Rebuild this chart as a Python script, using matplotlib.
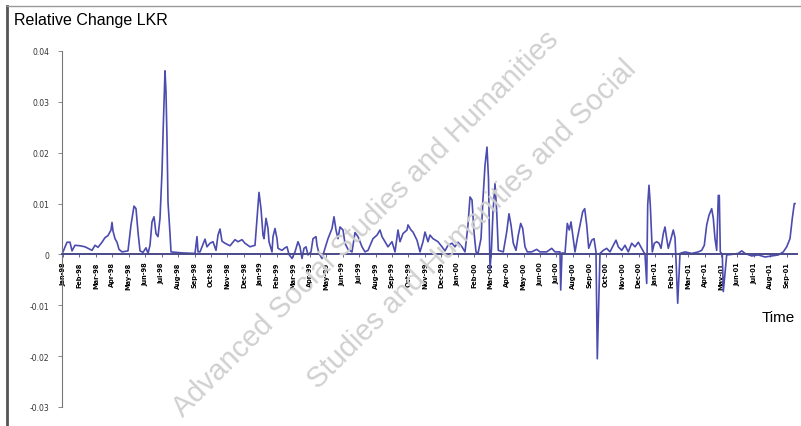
import numpy as np
import pandas as pd
import matplotlib
matplotlib.use('Agg')
import matplotlib.pyplot as plt
from matplotlib.lines import Line2D

# observation number (trading days from start) and relative change in per mille
obs = [1, 5, 8, 10, 13, 18, 23, 26, 30, 33, 36, 40, 43, 46, 49, 50, 51, 53, 55, 57,
       60, 66, 69, 72, 74, 76, 78, 81, 84, 86, 88, 90, 92, 94, 96, 98, 100, 101, 103, 104,
       105, 106, 108, 109, 120, 133, 135, 136, 138, 143, 145, 148, 151, 154, 156, 158, 160, 163,
       168, 173, 176, 180, 183, 188, 193, 195, 197, 199, 201, 202, 204, 206, 207, 210, 211, 213,
       215, 216, 220, 223, 225, 227, 230, 233, 236, 238, 240, 242, 244, 246, 249, 251, 254, 255,
       257, 260, 263, 266, 270, 272, 274, 276, 278, 281, 283, 286, 290, 293, 296, 300, 303, 306,
       311, 315, 318, 320, 323, 326, 330, 333, 336, 338, 341, 345, 346, 349, 351, 355, 358, 361,
       363, 366, 368, 371, 376, 380, 383, 386, 390, 393, 396, 400, 403, 406, 408, 410, 412, 414,
       416, 419, 421, 423, 425, 426.5, 428, 429.5, 431, 433, 434.7, 436.3, 441.3, 444.7, 447,
       449, 451.3, 454, 456.3, 458.7, 460.7, 463, 465.3, 469.7, 474.7, 478, 484.7, 489.7, 493,
       498, 498.7, 500, 503, 505.3, 507.3, 509, 511.3, 513, 515.3, 518, 520.7, 522.7, 524.7,
       526.7, 529.7, 532, 534, 535.3, 538, 541.3, 544.7, 548, 551.3, 554, 556.3, 559.7, 563,
       566.3, 569.7, 573, 576.3, 579.7, 583, 584.7, 585.7, 587, 588.3, 590.3, 592.3, 594.7, 597,
       599, 601.3, 603, 604.7, 606.3, 609, 611.3, 613, 614.2, 615.7, 618, 623, 629.7, 636.3,
       639.7, 642.3, 644.7, 647, 649.7, 651.3, 653, 654.7, 656.3, 657.3, 658.3, 660.3, 661.3,
       664.7, 669.7, 676.3, 679.7, 683, 689.7, 696.3, 703, 709.7, 716.3, 721.3, 724.7, 728,
       730.3, 732.3, 733]
chg = [0.5, 2.4, 2.4, 0.7, 1.8, 1.7, 1.5, 1.2, 0.8, 1.8, 1.4, 2.4, 3.3, 3.7, 4.8, 6.3, 4.6, 3.1, 2.4, 1.0,
       0.5, 0.7, 5.8, 9.5, 9.0, 4.4, 0.7, 0.4, 1.3, 0.2, 1.8, 6.4, 7.4, 4.1, 3.5, 7.1, 16.2, 23.4, 36.1, 31.9,
       22.7, 10.3, 4.1, 0.5, 0.3, 0.2, 3.5, 0.5, 0.5, 3.0, 1.5, 2.2, 2.5, 0.8, 3.8, 5.0, 2.6, 2.2,
       1.7, 2.9, 2.5, 2.9, 2.2, 1.5, 1.8, 7.1, 12.2, 9.0, 3.8, 3.1, 7.1, 5.1, 2.5, 0.5, 3.5, 5.1,
       3.1, 1.2, 0.8, 1.3, 1.5, 0.0, -0.8, 0.5, 2.5, 1.5, -0.8, 1.2, 1.5, -0.1, 0.5, 3.1, 3.5, 1.8,
       0.2, -0.8, 1.2, 3.1, 5.1, 7.4, 4.8, 3.1, 5.4, 4.8, 2.2, 1.0, 0.5, 4.3, 3.5, 1.5, 0.5, 0.8,
       3.1, 3.8, 4.8, 3.5, 2.5, 1.5, 2.5, 0.5, 4.8, 2.5, 4.1, 4.8, 5.8, 4.8, 4.4, 2.8, 0.5, 2.5,
       4.4, 2.5, 3.8, 3.1, 2.5, 1.5, 0.7, 1.8, 2.2, 1.5, 2.4, 1.5, 0.5, 5.8, 11.3, 10.7, 4.4, 0.5,
       0.2, 3.1, 11.0, 17.5, 21.1, 14.9, -3.0, 1.2, 8.4, 13.9, 8.4, 0.8, 0.5, 4.4, 8.0,
       5.8, 2.2, 0.8, 3.8, 6.1, 5.1, 1.5, 0.5, 0.5, 1.0, 0.5, 0.5, 1.2, 0.5,
       0.5, -7.0, 0.3, 0.2, 6.1, 4.8, 6.4, 3.1, 0.5, 3.1, 5.8, 8.4, 9.0, 5.8,
       1.2, 2.8, 3.1, 0.5, -20.5, 0.2, 0.8, 1.2, 0.5, 1.8, 2.8, 1.5, 0.8, 1.8,
       0.5, 2.2, 1.5, 2.4, 1.2, 0.0, -5.7, 9.7, 13.6, 9.7, 0.5, 2.2, 2.5, 2.2,
       1.2, 4.1, 5.4, 3.1, 1.2, 3.1, 4.8, 3.3, -2.0, -9.6, 0.2, 0.5, 0.2, 0.5,
       0.8, 1.8, 5.8, 7.7, 9.0, 7.1, 3.1, 0.8, 11.6, 11.6, 0.5, 0.0, -7.3,
       -0.1, 0.0, 0.2, 0.7, 0.2, -0.3, -0.1, -0.5, -0.3, -0.1, 0.5, 1.5, 3.1,
       7.1, 10.0, 10.0]

# one label every 16.45 observations, monthly
tick_pos = np.arange(45) * 16.45 + 1
tick_lab = pd.date_range('1998-01-01', periods=45, freq='MS').strftime('%b-%y')

watermark = ['Advanced Social Studies and Humanities',
             'Studies and Humanities and Social']

fig = plt.figure(figsize=(8.01, 4.27), dpi=100)

# diagonal watermark of the scanned page
fig.text(183 / 801, 1 - 418 / 427, watermark[0], rotation=45, rotation_mode='anchor',
         ha='left', va='baseline', fontsize=21, color='#d0d0d0', family='Liberation Sans',
         zorder=0)
fig.text(318 / 801, 1 - 390 / 427, watermark[1], rotation=45, rotation_mode='anchor',
         ha='left', va='baseline', fontsize=21, color='#d0d0d0', family='Liberation Sans',
         zorder=0)

ax = fig.add_axes([62 / 801, 19 / 427, 735 / 801, 356 / 427])
ax.patch.set_alpha(0)

ax.plot(obs, np.array(chg) / 1000, color='#4b4bb0', lw=1.2)

ax.set_ylim(-0.03, 0.04)
ax.set_xlim(0, 735)
ax.set_yticks([-0.03, -0.02, -0.01, 0, 0.01, 0.02, 0.03, 0.04])
ax.set_yticklabels(['-0.03', '-0.02', '-0.01', '0', '0.01', '0.02', '0.03', '0.04'])
ax.tick_params(axis='y', labelsize=5.5, labelcolor='#333333', length=3, width=0.6,
               color='#777777', pad=6)

ax.spines['top'].set_visible(False)
ax.spines['right'].set_visible(False)
ax.spines['left'].set_color('#777777')
ax.spines['left'].set_linewidth(0.8)
ax.spines['bottom'].set_position(('data', 0))
ax.spines['bottom'].set_color('#4a4a8a')
ax.spines['bottom'].set_linewidth(1.4)

ax.set_xticks(tick_pos)
ax.set_xticklabels(tick_lab, rotation=90, fontsize=4.8, fontweight='bold')
ax.tick_params(axis='x', length=2, width=0.6, color='#4a4a8a', pad=3)

fig.text(14 / 801, 1 - 20 / 427, 'Relative Change LKR', fontsize=11.5,
         family='Liberation Sans', va='center', ha='left')
fig.text(795 / 801, 1 - 318 / 427, 'Time', fontsize=11,
         family='Liberation Sans', va='center', ha='right')

# frame of the scanned box
fig.add_artist(Line2D([7 / 801, 7 / 801], [0, 1 - 7 / 427], transform=fig.transFigure,
                      color='#555555', lw=2))
fig.add_artist(Line2D([7 / 801, 1], [1 - 7 / 427, 1 - 7 / 427], transform=fig.transFigure,
                      color='#999999', lw=1))

fig.savefig('out.png', dpi=100)
